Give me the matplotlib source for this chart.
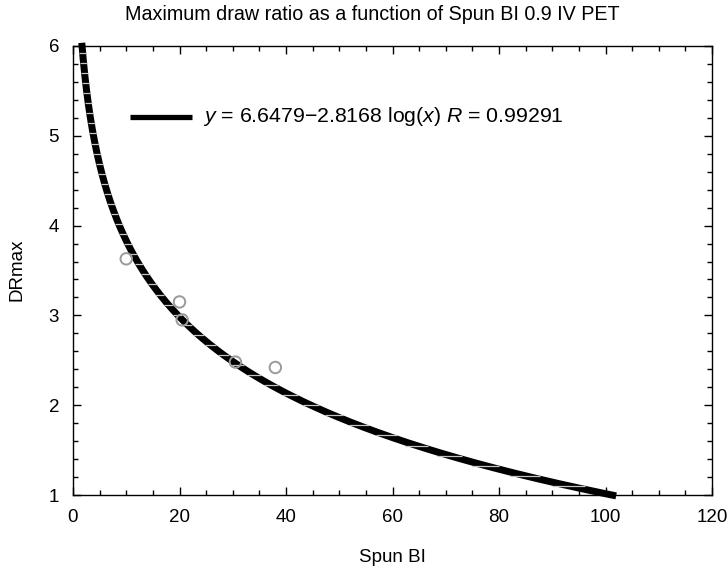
import matplotlib
matplotlib.use('Agg')
import matplotlib.pyplot as plt
import numpy as np
from matplotlib.ticker import MultipleLocator
from matplotlib.transforms import IdentityTransform

plt.rcParams['font.family'] = ['Liberation Sans', 'DejaVu Sans']
plt.rcParams['mathtext.fontset'] = 'custom'
plt.rcParams['mathtext.rm'] = 'Liberation Sans'
plt.rcParams['mathtext.it'] = 'Liberation Sans:italic'

# measured points
spun_bi = [10, 20, 20.5, 30.5, 38]
dr_max = [3.63, 3.15, 2.95, 2.48, 2.42]

# fit shown in the legend: y = a - b log10(x)
fit_a = 6.6479
fit_b = 2.8168
fit_r = 0.99291
fit_xmin, fit_xmax = 1.65, 102

W, H = 728, 571
fig = plt.figure(figsize=(W / 100, H / 100), dpi=100)
ax = fig.add_axes([73 / W, 1 - 495 / H, 639 / W, 449 / H])
ax.set_xlim(0, 120)
ax.set_ylim(1, 6)

lw_px = 7.0
xf = np.logspace(np.log10(fit_xmin), np.log10(fit_xmax), 800)
yf = fit_a - fit_b * np.log10(xf)
ax.plot(xf, yf, color='black', lw=lw_px * 0.72, solid_capstyle='butt', clip_on=False, zorder=2)

# light horizontal seams across the thick curve (as in the original rendering)
sx = 639 / 120.0
sy = 449 / 5.0
n_seams = 46
ys = np.linspace(fit_a - fit_b * np.log10(fit_xmin), fit_a - fit_b * np.log10(fit_xmax), n_seams)[1:-1]
for yk in ys:
    xk = 10 ** ((fit_a - yk) / fit_b)
    X, Y = ax.transData.transform((xk, yk))
    slope = fit_b / (xk * np.log(10)) * sy / sx
    th = np.arctan(slope)
    L = lw_px / np.sin(th)
    ax.plot([X - L / 2, X + L / 2], [Y, Y], transform=IdentityTransform(), color='#c4c4c4',
            lw=0.9, solid_capstyle='butt', clip_on=False, zorder=2.5)

ax.scatter(spun_bi, dr_max, s=68, facecolors='none', edgecolors='#9a9a9a',
           linewidths=1.4, zorder=4, clip_on=False)

# legend entry
lab = r'$\it{y}$ = 6.6479$-$2.8168 log($\it{x}$) $\it{R}$ = 0.99291'
fig.add_artist(plt.Line2D([130 / W, 192 / W], [1 - 117 / H, 1 - 117 / H], color='black', lw=3.8,
                          solid_capstyle='butt'))
fig.text(203 / W, 1 - 117 / H, lab, fontsize=15.3, va='center', ha='left')

ax.xaxis.set_major_locator(MultipleLocator(20))
ax.xaxis.set_minor_locator(MultipleLocator(5))
ax.yaxis.set_major_locator(MultipleLocator(1))
ax.yaxis.set_minor_locator(MultipleLocator(0.2))
ax.tick_params(which='both', direction='in', top=True, right=True, labelsize=13.5, width=1)
ax.tick_params(which='major', length=6, pad=10)
ax.tick_params(which='minor', length=3.5)
for s in ax.spines.values():
    s.set_linewidth(1)

fig.text(392 / W, 1 - 557 / H, 'Spun BI', fontsize=13.5, ha='center', va='center')
fig.text(17 / W, 1 - 270 / H, 'DRmax', fontsize=13.5, ha='center', va='center', rotation=90)
fig.text(372 / W, 1 - 14 / H, 'Maximum draw ratio as a function of Spun BI 0.9 IV PET',
         fontsize=14.2, ha='center', va='center')

plt.savefig('out.png', dpi=100)
